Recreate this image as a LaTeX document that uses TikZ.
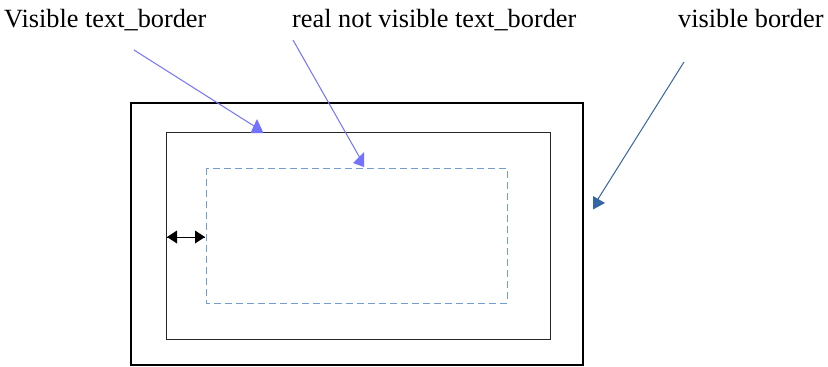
\documentclass[tikz,border=0pt]{standalone}
\usepackage{fontspec}
\setmainfont{Liberation Serif}
\definecolor{violetblue}{HTML}{7272FF}
\definecolor{steelblue}{HTML}{3465A4}
\definecolor{dashblue}{HTML}{729FCF}
\begin{document}
\begin{tikzpicture}[x=1pt,y=-1pt,
  lbl/.style={anchor=base west,inner sep=0pt,font=\fontsize{26.3}{30}\selectfont},
  pointer/.style={line width=1pt,color=violetblue},
  pointerdark/.style={line width=1pt,color=steelblue}]
\useasboundingbox[fill=white] (0,0) rectangle (828,367);
% rectangles
\draw[line width=2pt,black] (131,103) rectangle (583,365);
\draw[line width=1pt,black!85] (166,132) rectangle (550,339);
\draw[line width=1pt,dashblue,dash pattern=on 7pt off 4pt] (206,168) rectangle (507,303);
% labels
\node[lbl] (t1) at (4,27) {Visible text\_border};
\node[lbl] (t2) at (292,27) {real not visible text\_border};
\node[lbl] (t3) at (678,27) {visible border};
% connectors
\coordinate (a1s) at (134,50);
\coordinate (a1e) at (254,126);
\coordinate (a2s) at (293,40);
\coordinate (a2e) at (360,158);
\coordinate (a3s) at (684,62);
\coordinate (a3e) at (598,199);
\draw[pointer] (a1s) -- (a1e);
\fill[violetblue] (257,119) -- (263.5,133) -- (250.5,133) -- cycle;
\draw[pointer] (a2s) -- (a2e);
\fill[violetblue] (353,163) -- (364,152) -- (364,167) -- cycle;
\draw[pointerdark] (a3s) -- (a3e);
\fill[steelblue] (593,196) -- (605,203) -- (593,209.5) -- cycle;
% double arrow
\coordinate (d1) at (167,237);
\coordinate (d2) at (205,237);
\draw[line width=1pt,black] (d1) -- (d2);
\fill[black] (d1) -- (177,230.5) -- (177,243.5) -- cycle;
\fill[black] (d2) -- (195,230.5) -- (195,243.5) -- cycle;
\end{tikzpicture}
\end{document}
